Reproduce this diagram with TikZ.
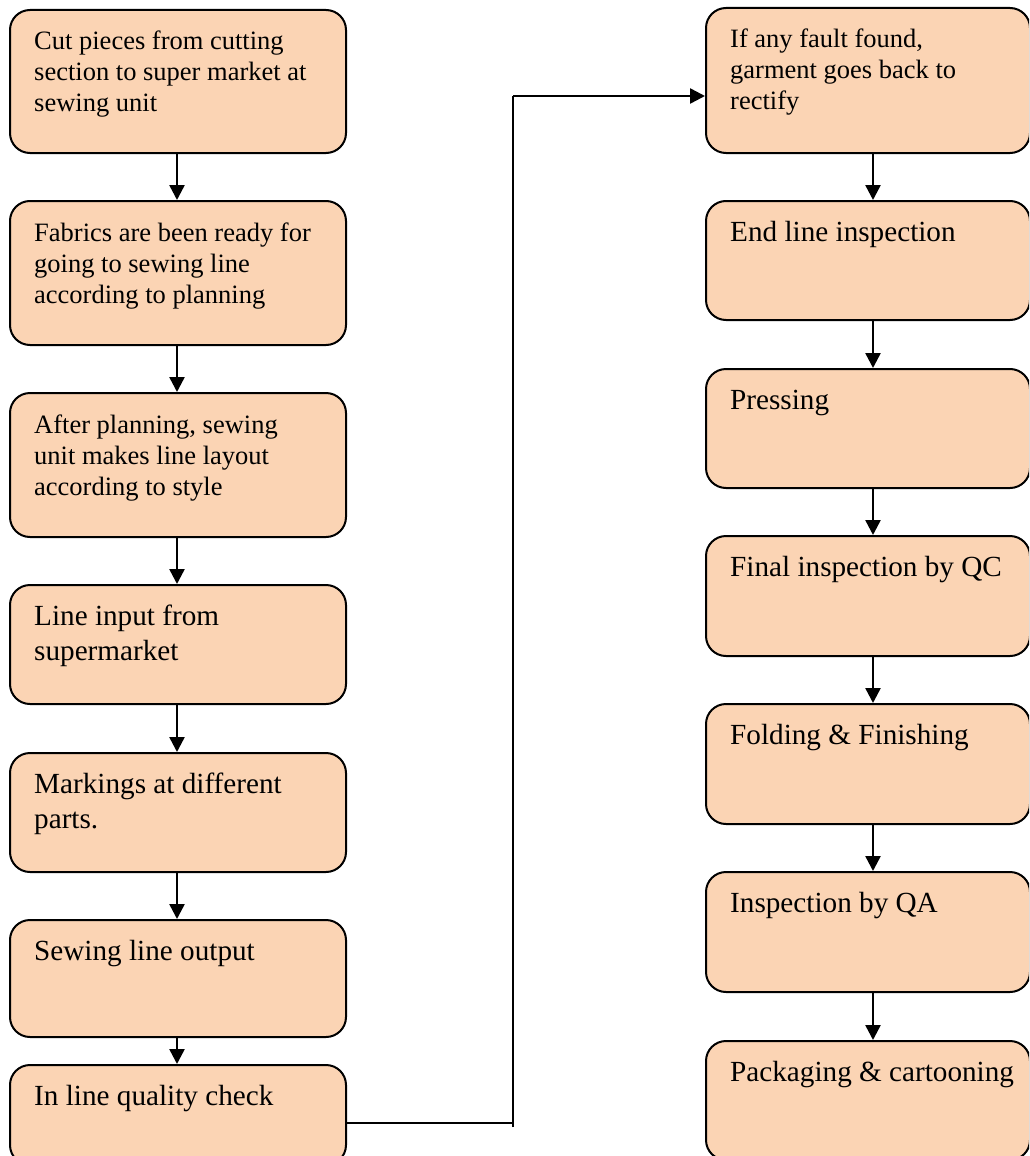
\documentclass[tikz,border=0pt]{standalone}
\usepackage{fontspec}
\setmainfont{Liberation Serif}
\usetikzlibrary{arrows.meta}

\definecolor{peach}{HTML}{FBD4B4}

\newcommand{\smallfont}{\fontsize{26.5}{31}\selectfont}
\newcommand{\largefont}{\fontsize{29.2}{35}\selectfont}

% #1 name, #2 left, #3 top, #4 right, #5 bottom, #6 font, #7 text
\newcommand{\procbox}[7]{%
  \node[box, minimum width={#4-#2}, minimum height={#5-#3}, anchor=north west] (#1) at (#2,#3) {};
  \node[txt, anchor=base west] (#1t) at ([shift={(25,41)}]#1.north west)
    {\parbox[t]{300pt}{\raggedright #6 #7}};
}

\begin{document}
\begin{tikzpicture}[x=1pt, y=-1pt,
  box/.style={draw=black, line width=2pt, fill=peach, rounded corners=20pt, inner sep=0pt},
  txt/.style={inner sep=0pt, text=black},
  arr/.style={line width=2.5pt, -{Triangle[width=15pt, length=15pt]}},
  link/.style={line width=2.5pt}]
\useasboundingbox (0,0) rectangle (1029,1156);
\clip (0,0) rectangle (1029,1156);

% left column
\procbox{L1}{9}{9}{345}{152}{\smallfont}{Cut pieces from cutting\\section to super market at\\sewing unit}
\procbox{L2}{9}{200}{345}{344}{\smallfont}{Fabrics are been ready for\\going to sewing line\\according to planning}
\procbox{L3}{9}{392}{345}{536}{\smallfont}{After planning, sewing\\unit makes line layout\\according to style}
\procbox{L4}{9}{584}{345}{703}{\largefont}{Line input from\\supermarket}
\procbox{L5}{9}{752}{345}{871}{\largefont}{Markings at different\\parts.}
\procbox{L6}{9}{919}{345}{1036}{\largefont}{Sewing line output}
\procbox{L7}{9}{1064}{345}{1164}{\largefont}{In line quality check}

% right column
\procbox{R1}{705}{7}{1029}{152}{\smallfont}{If any fault found,\\garment goes back to\\rectify}
\procbox{R2}{705}{200}{1029}{319}{\largefont}{End line inspection}
\procbox{R3}{705}{368}{1029}{487}{\largefont}{Pressing}
\procbox{R4}{705}{535}{1029}{655}{\largefont}{Final inspection by QC}
\procbox{R5}{705}{703}{1029}{823}{\largefont}{Folding \& Finishing}
\procbox{R6}{705}{871}{1029}{991}{\largefont}{Inspection by QA}
\procbox{R7}{705}{1040}{1029}{1159}{\largefont}{Packaging \& cartooning}

% column axes for the vertical arrows
\coordinate (lx) at (177,0);
\coordinate (rx) at (873,0);

\foreach \a/\b in {L1/L2, L2/L3, L3/L4, L4/L5, L5/L6, L6/L7}
  \draw[arr] (lx |- \a.south) -- (lx |- \b.north);
\foreach \a/\b in {R1/R2, R2/R3, R3/R4, R4/R5, R5/R6, R6/R7}
  \draw[arr] (rx |- \a.south) -- (rx |- \b.north);

% link from the last left box up to the first right box
\coordinate (j1) at (513,1123);
\coordinate (j2) at (513,96);
\draw[link] (L7.east |- j1) -- (j1);
\draw[link] (513,1127) -- (j2);
\draw[arr] (j2) -- (R1.west |- j2);
\end{tikzpicture}
\end{document}
